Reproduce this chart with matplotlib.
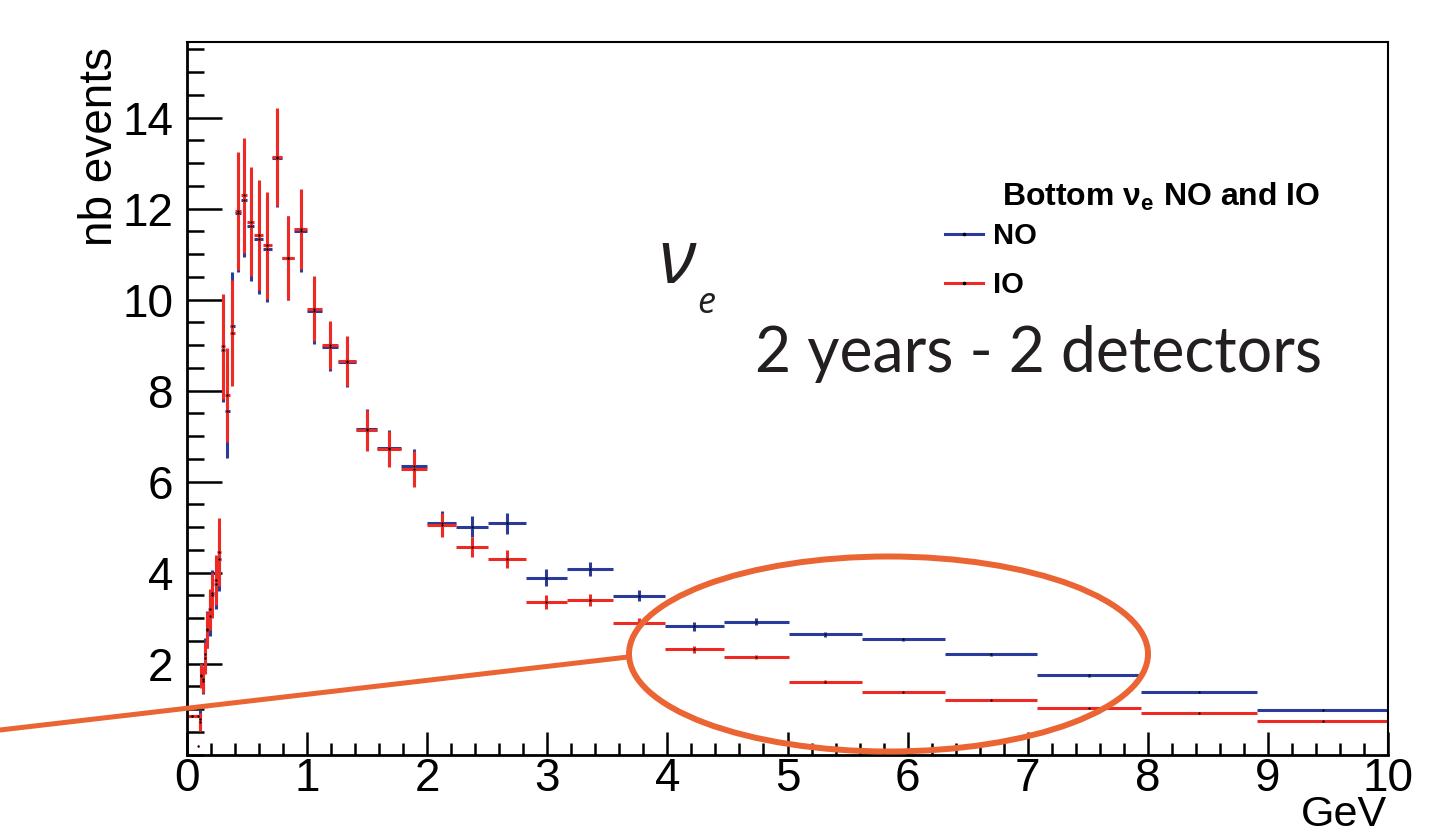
import numpy as np
import matplotlib.pyplot as plt
from matplotlib.lines import Line2D
from matplotlib.patches import Ellipse

plt.rcParams['font.family'] = ['Liberation Sans', 'DejaVu Sans']
plt.rcParams['mathtext.fontset'] = 'custom'
plt.rcParams['mathtext.rm'] = 'Liberation Sans'
plt.rcParams['mathtext.bf'] = 'Liberation Sans:bold'
plt.rcParams['mathtext.it'] = 'Liberation Sans:italic'

# bin edges (GeV), log binning
edges = [0.0, 0.089, 0.1, 0.112, 0.126, 0.141, 0.158, 0.178, 0.2, 0.224, 0.251,
         0.282, 0.316, 0.355, 0.398, 0.447, 0.501, 0.562, 0.631, 0.708, 0.794,
         0.891, 1.0, 1.12, 1.26, 1.41, 1.58, 1.78, 2.0, 2.24, 2.51, 2.82, 3.16,
         3.55, 3.98, 4.47, 5.01, 5.62, 6.31, 7.08, 7.94, 8.91, 10.0]

# normal ordering
no_vals = [0.85, 0.85, 0.78, 1.75, 1.62, 2.2, 2.75, 3.05, 3.55, 3.75, 4.3,
           8.9, 7.55, 9.41, 11.9, 12.18, 11.61, 11.32, 11.11, 13.1, 10.92,
           11.5, 9.75, 8.95, 8.62, 7.15, 6.73, 6.33, 5.08, 5.01, 5.08, 3.89,
           4.08, 3.49, 2.82, 2.92, 2.64, 2.53, 2.2, 1.74, 1.37, 0.98]
no_err = [0.0, 0.0, 0.2, 0.27, 0.3, 0.35, 0.4, 0.45, 0.5, 0.55, 0.7,
          1.15, 1.03, 1.2, 1.3, 1.25, 1.2, 1.2, 1.17, 1.07, 0.92,
          0.9, 0.72, 0.53, 0.55, 0.45, 0.4, 0.39, 0.27, 0.23, 0.23, 0.18,
          0.16, 0.12, 0.1, 0.08, 0.06, 0.04, 0.03, 0.03, 0.02, 0.02]

# inverted ordering
io_vals = [0.85, 0.19, 0.72, 1.73, 1.65, 2.13, 2.73, 3.19, 3.5, 3.83, 4.45,
           8.97, 7.9, 9.27, 11.95, 12.29, 11.71, 11.42, 11.19, 13.13, 10.92,
           11.55, 9.8, 9.0, 8.65, 7.13, 6.71, 6.27, 5.04, 4.57, 4.29, 3.35,
           3.39, 2.89, 2.31, 2.14, 1.6, 1.38, 1.2, 1.02, 0.91, 0.74]
io_err = [0.0, 0.0, 0.2, 0.27, 0.3, 0.35, 0.4, 0.45, 0.5, 0.55, 0.75,
          1.15, 1.04, 1.16, 1.3, 1.27, 1.2, 1.2, 1.17, 1.07, 0.92,
          0.88, 0.72, 0.53, 0.55, 0.45, 0.4, 0.39, 0.27, 0.22, 0.2, 0.16,
          0.13, 0.1, 0.08, 0.05, 0.03, 0.02, 0.01, 0.01, 0.01, 0.01]

blue = '#2a3b9c'
red = '#ee2a24'
orange = '#eb6434'

lo = np.array(edges[:-1])
hi = np.array(edges[1:])
centers = (lo + hi) / 2
xerr = [centers - lo, hi - centers]

W, H = 1451, 836
fig = plt.figure(figsize=(W / 100, H / 100), dpi=100)
ax = fig.add_axes([187 / W, 1 - 754.5 / H, 1201 / W, 712.5 / H])

ax.errorbar(centers, no_vals, xerr=xerr, yerr=no_err, fmt='none',
            ecolor=blue, elinewidth=2.2, capsize=0)
ax.errorbar(centers, io_vals, xerr=xerr, yerr=io_err, fmt='none',
            ecolor=red, elinewidth=2.2, capsize=0)
ax.plot(centers, no_vals, 'o', color='k', ms=1.6, mew=0)
ax.plot(centers, io_vals, 'o', color='k', ms=1.6, mew=0)

ax.set_xlim(0, 10)
ax.set_ylim(0, 15.66)
ax.set_xticks(range(11))
ax.set_xticks(np.arange(0, 10.01, 0.2), minor=True)
ax.set_yticks(range(2, 15, 2))
ax.set_yticks(np.arange(0, 15.6, 0.5), minor=True)
ax.tick_params(axis='both', which='both', direction='in', top=False, right=False,
               width=1.8, labelsize=33)
ax.tick_params(axis='y', which='major', length=25, pad=10)
ax.tick_params(axis='y', which='minor', length=12)
ax.tick_params(axis='x', which='major', length=16.5, pad=2)
ax.tick_params(axis='x', which='minor', length=8.5)
for s in ['left', 'bottom']:
    ax.spines[s].set_linewidth(2.0)
for s in ['top', 'right']:
    ax.spines[s].set_linewidth(1.5)

fig.text(100 / W, 1 - 47 / H, 'nb events', rotation=90, ha='center', va='top', fontsize=33)
fig.text(1387 / W, 0.5 / H, 'GeV', ha='right', va='bottom', fontsize=31)

# legend
fig.text(1002 / W, 1 - 197 / H, 'Bottom ν$_\\mathbf{e}$ NO and IO', weight='bold',
         fontsize=23, ha='left', va='center')
h_no = Line2D([], [], color=blue, lw=2.2, marker='o', ms=1.6, mfc='k', mec='k')
h_io = Line2D([], [], color=red, lw=2.2, marker='o', ms=1.6, mfc='k', mec='k')
ax.legend([h_no, h_io], ['NO', 'IO'], loc='upper left',
          bbox_to_anchor=(945 / W, 1 - 222 / H), bbox_transform=fig.transFigure,
          frameon=False, borderpad=0, borderaxespad=0, handlelength=1.3,
          handletextpad=0.35, labelspacing=0.72, prop={'weight': 'bold', 'size': 21})

# annotations
fig.text(658 / W, 1 - 283 / H, 'ν', family=['Open Sans', 'DejaVu Sans'], style='italic',
         fontsize=54, color='#231f20', va='baseline')
fig.text(697 / W, 1 - 313 / H, 'e', family=['Open Sans', 'DejaVu Sans'], style='italic',
         fontsize=26, color='#231f20', va='baseline')
fig.text(755 / W, 1 - 372 / H, '2 years - 2 detectors', family=['Lato', 'DejaVu Sans'],
         fontsize=45, color='#231f20', va='baseline')

fig.add_artist(Ellipse((888.5 / W, 1 - 654 / H), 519 / W, 195 / H, fill=False,
                       edgecolor=orange, lw=4.3, transform=fig.transFigure))
fig.add_artist(Line2D([0, 628 / W], [1 - 730 / H, 1 - 657 / H], color=orange, lw=3.6,
                      transform=fig.transFigure))

fig.savefig('out.png', dpi=100)
